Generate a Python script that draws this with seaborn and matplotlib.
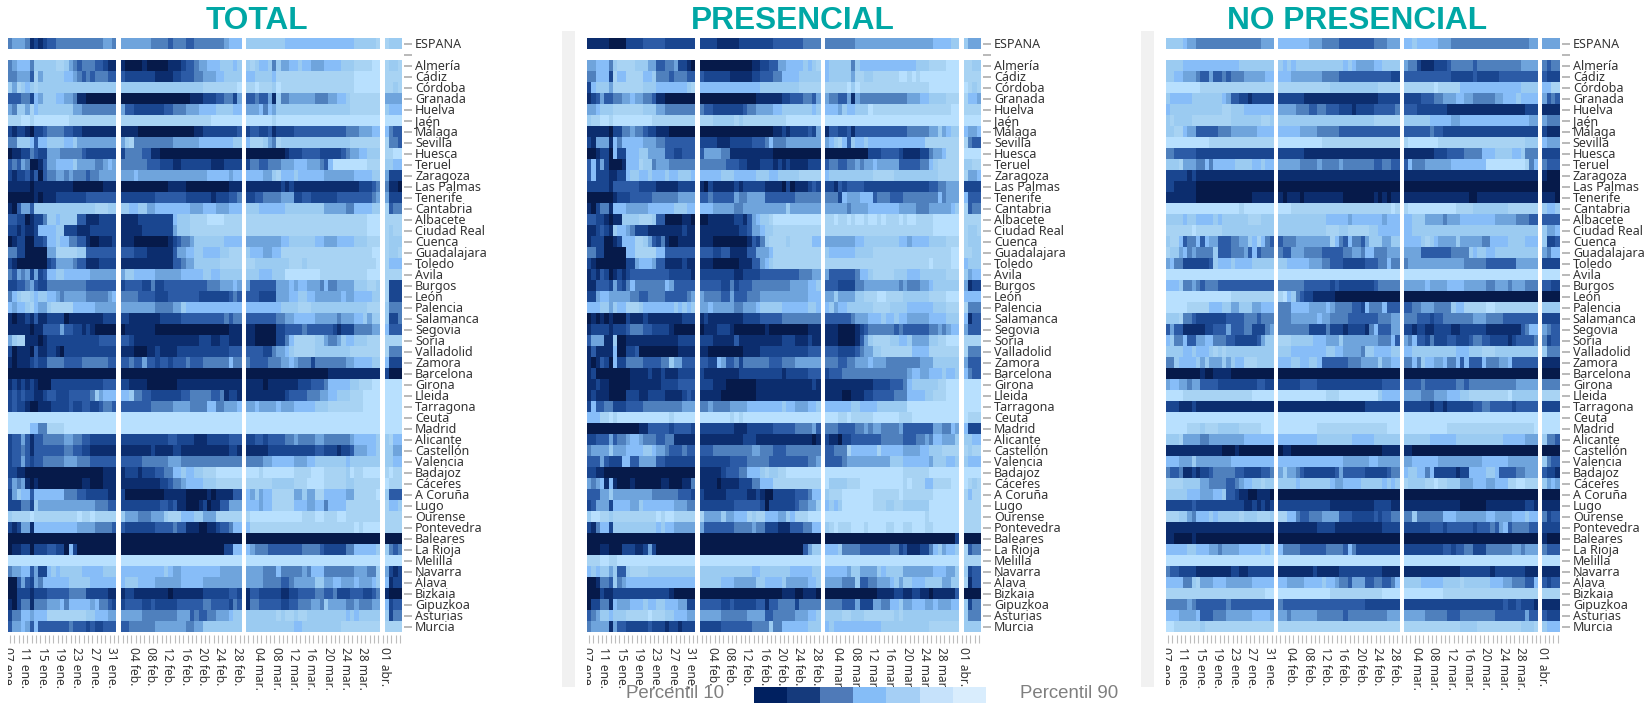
import numpy as np
import pandas as pd
import seaborn as sns
import matplotlib.pyplot as plt
from matplotlib.colors import ListedColormap
from matplotlib.patches import Rectangle
from matplotlib.transforms import Bbox, ScaledTranslation

provinces = ['ESPANA', 'Almería', 'Cádiz', 'Córdoba', 'Granada', 'Huelva', 'Jaén', 'Málaga', 'Sevilla', 'Huesca',
             'Teruel', 'Zaragoza', 'Las Palmas', 'Tenerife', 'Cantabria', 'Albacete', 'Ciudad Real', 'Cuenca',
             'Guadalajara', 'Toledo', 'Ávila', 'Burgos', 'León', 'Palencia', 'Salamanca', 'Segovia', 'Soria',
             'Valladolid', 'Zamora', 'Barcelona', 'Girona', 'Lleida', 'Tarragona', 'Ceuta', 'Madrid', 'Alicante',
             'Castellón', 'Valencia', 'Badajoz', 'Cáceres', 'A Coruña', 'Lugo', 'Ourense', 'Pontevedra', 'Baleares',
             'La Rioja', 'Melilla', 'Navarra', 'Álava', 'Bizkaia', 'Gipuzkoa', 'Asturias', 'Murcia']
month_days = [25, 28, 31, 4]
month_names = ['ene.', 'feb.', 'mar.', 'abr.']
first_day = [7, 1, 1, 1]
tick_days = {0: [7, 11, 15, 19, 23, 27, 31], 1: [4, 8, 12, 16, 20, 24, 28], 2: [4, 8, 12, 16, 20, 24, 28], 3: [1]}
titles = ['TOTAL', 'PRESENCIAL', 'NO PRESENCIAL']

# shade level per day, 0 = darkest, 9 = lightest. one row per province, months split by |
# token = level, or level followed by how many days it lasts
total = [
    "4 53 4 1 2 1 2 32 411 52 4|57 44 3 43 32 47 5 63|79 616 75 8|8 73",
    "4 5 63 4 75 82 7 5 4 3 43 32 2 12|1 04 1 05 13 2 32 4 52 63 73 6 7|7 8 7 62 7 4 7 52 62 7 62 53 64 73 84 92|8 72 8",
    "42 53 3 8 5 75 62 5 4 3 4 3 43 32|3 27 14 22 33 42 53 62 74|62 74 6 818 96|84",
    "7 5 8 7 6 7 8 718|719 88 9|82 9 83 7 9 817 96|82 7 8",
    "33 42 2 6 5 73 62 52 4 12 07|016 13 23 32 42 2 5|32 4 32 5 1 7 42 56 43 52 62 7 87|54",
    "5 4 72 5 8 6 78 52 48|5 32 27 32 43 53 64 74 62|53 6 4 6 5 717 87|7 63",
    "83 92 8 98 811|821 97|96 8 924|94",
    "2 1 22 1 0 22 3 44 32 22 18|14 013 12 28 3|2 32 22 3 1 24 312 43 53 62|6 4 32",
    "42 73 6 3 62 74 62 7 59|5 7 8 49 56 68 72|6 83 7 5 4 8 716 87|8 42 3",
    "0 12 22 4 3 22 53 45 3 27|2 44 32 12 019|09 1 23 34 25 3 4 52 62 73|82 92",
    "3 4 3 5 4 02 1 3 52 64 7 54 42 5 6 5|46 33 23 12 27 13 24|2 42 32 43 53 63 53 4 3 6 98 83|72 62",
    "2 1 22 3 1 3 0 3 42 52 4 5 43 3 42 54|53 6 516 65 5 62|64 52 7 8 63 7 66 57 64 72|5 23",
    "15 0 1 18 07 13|011 14 010 13|18 2 1 2 115 23 3 4|4 12 0",
    "06 1 0 13 27 37|2 27 37 26 1 23 32 4|22 32 44 53 22 32 26 38 4 5|5 23",
    "1 0 3 52 3 714 83 72|72 62 72 52 68 53 63 53 63|73 66 79 55 42 64 72|8 3 42",
    "32 22 0 1 22 4 72 6 74 32 13 24|14 28 6 73 84 94 84|828 93|84",
    "22 1 2 12 2 64 72 23 13 26|15 27 5 73 812|828 93|8 7 82",
    "0 1 22 02 22 3 62 7 62 42 32 1 02 13 2|13 08 1 2 3 42 5 77 64|58 62 76 62 53 64 73 83|8 73",
    "42 22 05 52 85 72 37|33 23 16 3 52 62 72 64 72 83|7 63 52 62 821 92|8 72 8",
    "2 1 07 2 3 54 4 32 13 24|112 32 4 52 76 85|82 78 83 7 816 9|8 63",
    "4 3 5 4 5 2 5 2 3 62 72 66 56|5 72 65 56 65 72 62 75|73 63 73 98 811 93|84",
    "22 32 4 5 3 22 49 37|2 34 22 4 22 310 43 53 6 5|5 36 53 6 5 62 53 4 6 42 52 52 73 82 7|8 23",
    "4 6 7 82 7 6 72 62 5 4 55 45 5 6|44 34 23 37 27 3 4 3|33 24 5 52 62 72 62 56 6 52 64 72|8 23",
    "6 5 62 7 8 6 52 7 85 65 55|58 44 52 7 613|68 74 83 76 77 83|7 43",
    "1 0 12 2 1 3 12 24 0 18 23|22 17 25 310 4 3 42|37 42 52 65 55 4 53 62 7 5 72|7 22 4",
    "15 0 1 1 3 33 5 32 22 1 2 1 05|0 17 017 13|12 05 22 34 4 36 2 1 23 44 52|6 33",
    "5 7 82 13 0 1 212 34|32 2 115 23 12 22 13|12 05 22 4 6 85 72 5 42 5 7 62 73 83|84",
    "2 0 13 0 3 12 22 1 0 212|13 03 12 2 14 212 33|34 22 4 52 6 7 85 73 75 87|8 43",
    "1 0 13 2 3 22 44 34 46 32|32 4 32 5 32 2 32 2 33 4 33 46 6 42|4 34 43 52 6 5 43 2 46 4 52 64 72|6 23",
    "025|028|019 112|2 03",
    "1 2 1 2 1 2 1 03 212 33|22 14 07 115|14 0 17 23 33 4 62 63 72 83 92|94",
    "2 3 2 3 22 12 2 32 23 35 4 7 5 63|62 7 42 32 27 32 45 32 4 1 22 1|19 2 34 43 52 62 73 83 94|94",
    "2 3 22 1 02 13 24 3 22 32 22 3 42 3|37 45 54 44 62 42 53 6|52 6 54 6 53 65 73 88 94|94",
    "925|928|931|94",
    "95 6 6 42 84 912|928|931|94",
    "2 32 5 3 1 32 45 52 42 32 26|211 32 24 13 25 33|22 32 2 34 42 5 44 52 46 5 65 7|7 8 62",
    "2 32 4 3 1 37 42 32 22 16|17 2 14 22 111 22 1|15 211 32 23 1 22 3 53 62 7|72 52",
    "2 32 5 3 2 32 45 53 43 36|35 46 53 414|44 52 65 53 62 72 75 6 77|72 62",
    "22 12 018 13|1 23 1 23 32 42 62 7 62 72 83 96|93 8 97 84 93 85 7 9 82 94|8 9 82",
    "3 5 4 5 1 0 1 010 12 03 13|19 22 3 42 5 64 73 86|86 75 83 92 92 85 72 82 84|9 83",
    "2 5 7 62 3 67 43 32 25 12|2 09 15 05 1 0 14 32|6 5 7 5 62 85 52 7 52 82 65 52 85 9|7 33",
    "23 42 2 7 513 43 32|29 32 2 3 12 03 1 2 0 12 32 53|63 5 62 85 63 52 62 4 64 88|8 62 7",
    "7 84 9 810 9 82 9 85|7 53 43 53 7 83 63 72 53 86|8 912 83 92 83 92 82 86|84",
    "2 1 2 52 1 610 54 44 3|3 27 34 4 32 13 02 12 2 32 4 62|6 824 9 8 94|84",
    "025|028|031|04",
    "0 12 22 0 23 32 22 0 6 2 09|024 22 62|6 5 43 38 44 3 25 42 65 7|7 4 3 4",
    "925|928|931|94",
    "4 52 62 3 5 22 6 7 6 75 65 73|610 7 6 52 69 55|54 43 6 45 5 4 63 47 53 42 7|5 2 1 2",
    "02 3 5 3 2 5 4 66 75 66|6 73 64 56 65 59|54 44 32 4 54 5 72 52 62 53 6 53 6 7|6 1 22",
    "02 23 1 23 35 44 25 12|1 22 18 0 17 26 32 2|1 32 25 12 22 34 42 32 4 23 3 32 22 3 4|1 03",
    "1 0 2 42 1 43 53 6 4 65 5 6 42 3 2|2 34 22 3 25 36 42 34 2 4 3|1 42 35 22 32 43 52 4 7 54 42 5 43 52|6 2 32",
    "2 42 62 5 63 89 72 63 52|55 48 53 3 4 32 42 53 6 72|77 8 7 82 7 8 8 79 6 7 6 75|7 2 42",
    "3 52 6 5 3 6 37 4 33 2 3 22 33|32 46 57 42 52 79|711 62 79 89|84",
]
presencial = [
    "15 04 24 35 27|24 15 28 37 44|47 518 64 72|7 53",
    "52 63 4 7 84 73 52 32 42 5 22 1 0|012 12 22 32 52 64 7 6 7 8|6 75 4 7 613 73 84 93|82 72",
    "42 63 2 8 62 84 62 7 43 3 43 32|3 26 15 22 33 42 64 75|6 75 5 82 72 86 92 8 9 8 99|84",
    "2 6 73 5 87 73 67 7 8|614 79 85|85 9 7 9 816 97|9 8 7 8",
    "1 2 3 5 32 42 52 6 52 42 3 12 07|013 16 22 33 42 3 5|5 42 32 5 1 5 411 53 62 74 83|8 62 5",
    "52 6 73 87 73 52 47|4 32 27 3 42 54 62 77 6 7|63 5 7 62 73 9 818 92|84",
    "7 82 92 8 99 810|83 75 8 7 810 98|931|94",
    "15 0 22 42 5 42 3 22 13 06|017 12 2 1 24 3 2 5|1 32 22 3 1 312 45 52 7 5 6 72|6 52 6",
    "2 1 53 1 6 4 65 53 42 37|24 13 25 33 4 6 43 52 56|5 6 7 8 6 3 7 62 7 613 86 82|8 4 32",
    "02 1 22 0 6 22 63 72 52 52 32 22 33|3 54 42 1 19 011|010 23 34 2 14 22 4 52 6 83|94",
    "3 6 2 5 2 03 1 63 8 72 4 53 46|46 33 22 13 23 1 2 1 2 14 23|3 42 32 42 5 4 52 6 55 3 34 42 6 7 85|72 82",
    "3 6 23 12 22 6 72 62 7 63 7 62 73 6|65 73 65 73 62 75 85|6 76 74 85 710 85|8 52 6",
    "25 1 36 24 15 24|1 0 2 15 2 1 25 14 0 2 0 13 2 3 2|22 1 3 2 3 33 22 213 32 42 53|24",
    "06 1 2 22 35 46 54|3 3 4 35 5 42 54 37 46|43 2 6 53 63 3 43 33 48 6 4 53|6 33",
    "1 0 2 42 1 63 55 64 62 73 62|63 55 42 510 7 57|55 4 54 67 54 43 55 6 7|8 3 42",
    "32 22 1 0 12 7 73 83 7 32 04 12 0|02 16 22 1 3 5 6 72 8 911|82 9 82 9 8 92 8 92 8 9 83 9 8 92 84 96|84",
    "12 2 3 2 1 7 62 5 4 23 18 2 12|19 22 3 52 6 72 811|825 96|8 72 8",
    "1 23 02 1 2 6 62 82 7 5 3 2 4 1 02 14|13 08 1 3 2 4 7 84 7 85 62|57 62 78 62 5 64 74 83|8 73",
    "42 22 05 62 85 62 37|3 32 22 32 14 32 53 6 811|7 66 74 818 92|82 72",
    "2 1 07 22 5 62 6 5 32 14 2 12|13 06 13 32 5 6 7 811|824 9 84 92|6 73",
    "1 2 1 3 2 0 1 2 1 2 39 25 1|28 12 24 39 43 52|5 36 4 62 7 85 73 63 76 83|7 5 62",
    "12 33 2 5 3 2 4 6 47 6 5 35|32 33 22 4 2 3 32 49 54 62 7|33 24 42 58 4 5 43 52 6 73 73|5 1 22",
    "22 5 62 5 54 42 32 44 35 4 5|5 44 32 5 33 43 511 63|52 7 54 72 83 92 84 76 84 93|64",
    "63 72 5 7 62 83 7 67 7 6 7 6 7|52 6 55 42 53 6 75 64 62 72 6|6 7 5 62 76 84 74 66 73 83|8 43",
    "0 1 0 1 0 1 03 2 13 2 18 23|1 2 18 24 35 49|36 4 53 63 7 62 7 62 55 64 73|6 1 32",
    "1 24 1 2 22 3 43 32 24 1 05|0 13 23 1 07 1 09 13|13 04 1 2 3 46 3 4 36 42 5 4 5 62|5 33",
    "3 53 12 7 02 112 24|23 15 3 110 23 13 2 12|13 04 1 3 5 7 84 72 62 7 5 53 72 82 93|84",
    "1 3 14 6 02 22 3 09 14|12 08 14 211 33|33 24 3 4 52 72 83 84 64 84 83|8 43",
    "1 0 1 3 2 0 6 22 44 34 42 7 52 33|32 22 6 5 32 4 2 46 33 43 56|43 32 42 53 6 53 48 53 76|5 33",
    "1 2 08 14 2 12 2 13 24|2 18 210 1 25 33|2 33 415 5 62 52 63 7 62 7|6 4 32",
    "12 2 12 05 17 24 34|23 13 07 113 2 1|111 24 33 4 6 76 82 93|94",
    "1 2 13 04 23 12 24 14 2 3 2|15 08 115|14 02 13 22 35 43 6 63 72 83 93|94",
    "2 6 32 42 23 3 33 49 53|42 5 44 54 68 7 62 53 62 7|66 72 64 77 912|94",
    "63 82 9 8 912 8 95|97 8 9 8 918|93 82 9 85 96 83 911|9 83",
    "012 12 35 2 34 2|28 13 26 35 44 5 3|43 34 42 5 4 5 5 44 5 37 52 42 6 5|6 23",
    "22 33 5 3 42 5 62 5 43 32 42 15|110 23 113 0 1|2 12 0 22 37 45 33 42 5 4 62 53 7|72 62",
    "4 54 7 53 64 72 6 52 4 33 4 32|33 49 52 43 33 48|32 43 8 66 8 65 54 62 73 84|8 7 82",
    "3 32 5 3 23 62 32 5 52 5 32 27|27 34 45 39 42 5|34 4 510 7 72 66 5 73 62 7|7 63",
    "22 1 1 021|15 2 33 42 63 7 8 72 82 98|918 86 97|94",
    "5 4 5 6 1 6 1 03 1 06 12 03 12 4|14 0 14 23 42 6 62 811|9 74 83 910 8 9 83 62 84 92|9 8 7 8",
    "3 32 52 7 59 46 33 2|2 15 25 12 2 1 02 25 33 4 62|7 83 97 86 9 87 96|8 6 82",
    "2 3 53 2 64 52 7 6 66 53 42|2 27 36 2 0 26 3 42 52 7|6 7 6 7 97 83 72 82 76 97|84",
    "7 92 82 7 810 9 8 92 85|8 54 7 52 63 8 7 82 63 52 7 6 83 93|923 8 97|84",
    "2 1 4 62 2 710 6 7 62 55|5 37 44 5 42 23 13 3 32 42 62|7 8 9 83 93 8 94 82 92 82 93 82 96|84",
    "025|028|030 2|04",
    "03 12 03 2 22 12 2 5 2 09|024 3 5 72|63 7 44 37 42 2 3 13 22 4 6 7 5 62 7|8 3 42",
    "83 92 82 918|928|931|84",
    "6 7 6 72 5 7 32 7 84 72 79|712 62 77 65 72|65 5 72 54 7 6 7 73 57 63 52 7|7 2 32",
    "02 1 42 3 7 4 5 616|75 63 55 72 64 7 5 54 62 7|54 43 7 32 42 53 6 7 5 72 63 74 52 72|8 1 32",
    "03 2 12 2 23 29 1 05|019 13 02 13 0|012 14 22 12 22 12 0 15 3|04",
    "0 22 42 1 6 53 63 7 62 72 63 52 22|35 22 3 25 32 1 32 44 2 45|44 33 5 23 52 42 62 7 52 63 52 6 53 62|7 2 42",
    "3 4 5 72 6 73 85 9 83 72 63 52|55 46 54 32 45 53 62 7|74 82 73 87 7 8 713|7 43",
    "4 54 1 5 32 25 3 23 1 22 1 23|25 37 44 7 42 6 65 73|6 7 6 610 711 87|74",
]
no_presencial = [
    "74 6 52 415 53|67 53 44 38 43 53|62 7 65 53 418 52|54",
    "74 613 78|7 6 7 6 73 78 6 7 6 54 62 74|5 42 2 12 1 23 3 45 3 410 54|4 3 42",
    "72 62 53 4 32 5 32 4 3 43 55 62|63 57 44 312 22|311 25 3 25 39|3 23",
    "98 817|812 711 85|87 9 85 614 74|62 82",
    "7 65 77 6 5 32 22 1 25|26 112 15 25|24 33 42 53 62 52 45 52 63 7 64|5 3 4 3",
    "6 712 82 73 67|54 43 32 42 33 23 1 24 35 4|33 27 118 23|14",
    "7 8 74 89 77 82 7|722 86|76 65 52 616 52|5 43",
    "72 82 6 52 35 43 56 64|65 54 45 314|36 4 32 222|2 13",
    "910 815|910 818|8 97 820 73|6 53",
    "42 35 218|26 122|17 23 34 44 6 62 74 62 7 43|24",
    "73 8 53 42 6 4 6 64 74 62 7 62|55 44 5 44 5 47 32 42 32|3 6 43 56 68 99 8 4 6|4 33",
    "25 1 2 118|128|131|1 03",
    "22 15 018|028|031|04",
    "17 013 15|1 0 13 0 19 07 1 0 1 0 12|115 02 114|13 0",
    "917 8 97|93 823 9 8|8 911 84 78 87|7 62 7",
    "74 6 72 64 7 6 76 83 73|711 65 5 67 5 63|62 7 72 54 4 53 68 55 43 32|34",
    "86 9 86 712|711 83 72 85 72 65|62 729|7 52 6",
    "7 82 6 3 42 6 3 6 52 33 42 52 7 6 8 6 4 3|3 43 58 8 6 4 3 6 42 3 5 73 52 72|64 7 8 7 6 54 7 55 42 6 63 74 63|7 22 3",
    "8 72 5 6 4 5 44 7 33 43 5 3 6 3 43|4 32 53 44 35 42 52 4 62 43 53|54 37 44 7 6 72 62 72 78|5 4 62",
    "5 6 42 26 3 7 63 7 64 75|72 65 53 42 33 25 33 42 6 42|4 513 45 37 55|24",
    "925|928|931|94",
    "6 62 7 42 5 4 3 43 313|46 36 2 3 28 3 45|55 6 54 64 55 42 53 4 53 43|32 22",
    "915 810|8 9 6 7 4 3 22 15 015|031|04",
    "95 85 63 72 52 73 52 63|43 64 54 6 5 44 32 2 6 43 6 33|32 42 53 44 7 62 85 92 810|74",
    "73 8 42 3 27 34 43 3 43|43 56 6 52 44 37 43 52|43 33 2 32 47 53 44 38|24",
    "3 5 32 15 22 33 5 33 42 2 22 4 5|47 24 4 23 1 24 1 4 6 33 52|22 1 22 12 24 12 26 1 17 3 4 62|5 4 32",
    "6 7 42 6 32 52 62 43 32 25 3 5 72|83 75 63 53 7 58 43 6 3|5 4 6 32 2 4 23 32 23 3 42 32 24 1 2 34 4|4 2 32",
    "74 62 7 63 7 8 7 8 711|73 64 64 72 62 54 4 72 64 72|62 710 63 73 83 710|7 43",
    "42 7 6 63 7 5 7 53 7 5 7 62 83 74|63 72 62 72 6 36 43 54 7 52 62|42 6 4 7 62 52 6 42 6 3 6 33 6 43 52 6 36|14",
    "08 1 02 14 010|028|031|04",
    "5 62 52 4 52 34 29 32 22|25 34 215 34|34 4 37 42 3 411 55|44",
    "94 816 95|911 83 99 7 64|54 43 53 63 72 89 9 76|84",
    "23 13 2 118|120 28|26 1 22 1 26 32 42 35 2 35|24",
    "925|928|931|94",
    "95 83 7 83 75 85 93|99 816 93|910 820 9|94",
    "73 8 54 42 58 67|69 78 65 76|76 66 711 65 53|7 42 3",
    "113 03 1 08|0 12 021 14|12 029|04",
    "63 53 7 58 610|615 56 62 55|52 66 510 66 57|7 4 32",
    "4 32 4 12 2 1 22 3 45 32 24 32 4|5 7 52 4 3 27 3 5 35 25 3 42|6 72 6 6 4 6 25 1 22 64 72 6 34 42 53|3 22 1",
    "84 74 52 44 32 4 5 62 72 8 72|74 6 77 6 52 64 75 6 7 6 7|8 74 82 9 82 72 7 53 63 52 63 82 92 83|7 5 6 5",
    "75 63 53 62 7 32 2 12 02 13 0|028|031|04",
    "26 3 211 12 2 1 2 1 2|212 110 24 12|113 06 19 22 1|14",
    "83 72 5 4 63 7 6 75 8 73 83 7|82 62 4 32 43 54 33 25 3 2 32 42|42 7 46 6 62 57 62 54 63 7 62|4 2 32",
    "125|19 24 111 24|26 33 2 36 2 33 4 3 5 6 3 4 43 32|24",
    "12 04 1 018|028|031|1 03",
    "65 72 63 52 4 54 65 7 6 7|6 44 36 44 3 6 4 210|29 32 2 32 42 23 46 52 4 53|4 33",
    "925|928|931|94",
    "4 32 24 18 22 12 26|18 2 15 210 14|113 27 1 27 13|14",
    "64 42 7 8 53 63 56 65|62 54 64 7 62 5 42 3 5 52 32 42 32 4 6|74 65 72 72 8 76 63 52 43 32 6|3 2 32",
    "823 92|912 812 94|99 822|84",
    "45 5 4 37 4 310|4 319 28|223 3 22 3 23 1|14",
    "63 54 6 33 43 56 64 5|52 4 56 46 3 49 53|55 45 33 48 37 5 32|3 23",
    "92 86 7 816|828|813 74 810 7 72 8|7 63",
]
legend_levels = [0, 1, 2, 3, 4, 5, 6]

shades = ['#061a4a', '#0c2d6e', '#1a4690', '#2c5ba6', '#4f80bd', '#6fa4dc', '#87bdf8', '#9bcbf1', '#a8d3f3', '#b8e0fe']
legend_shades = ['#002060', '#153a7c', '#4f7ab8', '#85bdf7', '#a5cff5', '#c6e2fb', '#d9edfd']

W, H = 1645, 703
plt.rcParams['font.family'] = ['Noto Sans', 'DejaVu Sans']


def expand(row):
    # months get one empty column between them
    out = []
    for m, part in enumerate(row.split('|')):
        days = []
        for tok in part.split():
            days += [int(tok[0])] * (int(tok[1:]) if len(tok) > 1 else 1)
        days = (days + days[-1:] * month_days[m])[:month_days[m]]
        out += days
        if m < 3:
            out.append(np.nan)
    return out


def axes_px(fig, left, top, w, h):
    return fig.add_axes([left / W, 1 - (top + h) / H, w / W, h / H])


# column labels, only every fourth day gets text
col_labels = []
for m, n in enumerate(month_days):
    for d in range(first_day[m], first_day[m] + n):
        col_labels.append(f'{d:02d} {month_names[m]}' if d in tick_days[m] else '')
    if m < 3:
        col_labels.append('')

fig = plt.figure(figsize=[W / 100, H / 100], dpi=100, facecolor='w')

for x0 in [562, 1141]:
    fig.add_artist(Rectangle((x0 / W, 1 - 686.7 / H), 13 / W, (686.7 - 31) / H, transform=fig.transFigure,
                             facecolor='#f1f1f1', edgecolor='none'))

panels = [total, presencial, no_presencial]
lefts = [8, 587, 1165.7]
centers = [256.7, 793.3, 1356.7]
row_labels = [provinces[0], ''] + provinces[1:]

for rows, left, center, title in zip(panels, lefts, centers, titles):
    values = [expand(r) for r in rows]
    values.insert(1, [np.nan] * len(col_labels))
    df = pd.DataFrame(values, index=range(len(row_labels)), columns=range(len(col_labels)))

    ax = axes_px(fig, left, 38.3, 394, 594)
    sns.heatmap(df, ax=ax, cmap=ListedColormap(shades), vmin=0, vmax=9, cbar=False,
                xticklabels=col_labels, yticklabels=row_labels)
    ax.set_xlabel('')
    ax.set_ylabel('')
    ax.yaxis.tick_right()
    for side in ax.spines:
        ax.spines[side].set_visible(False)
    ax.spines['right'].set_position(('outward', 1.6))
    ax.spines['bottom'].set_position(('outward', 2.2))
    ax.tick_params(axis='y', length=5.8, width=1.1, color='#a6a6a6', pad=2.0, labelsize=9.0,
                   labelcolor='#333333', labelrotation=0)
    ax.tick_params(axis='x', length=5.8, width=0.8, color='#bdbdbd', pad=2.6, labelsize=8.6,
                   labelcolor='#333333', labelrotation=270)
    # nudge the labels so the glyphs sit where the original has them
    up = ScaledTranslation(0, 1 / 100, fig.dpi_scale_trans)
    for lab in ax.get_yticklabels():
        lab.set_transform(lab.get_transform() + up)
    back = ScaledTranslation(-2.5 / 100, 0, fig.dpi_scale_trans)
    for lab in ax.get_xticklabels():
        lab.set_va('top')
        lab.set_ha('center')
        lab.set_transform(lab.get_transform() + back)
    # the first date label is cut by the panel edge
    first = ax.get_xticklabels()[0]
    first.set_clip_box(Bbox([[left, 0], [left + 60, H]]))
    first.set_clip_on(True)

    fig.text(center / W, 1 - 29 / H, title, family='Liberation Sans', weight='bold', fontsize=22.8,
             color='#00a7a5', ha='center', va='baseline')

# legend strip
lax = axes_px(fig, 753.5, 686.7, 232.5, 16.3)
sns.heatmap(pd.DataFrame([legend_levels]), ax=lax, cmap=ListedColormap(legend_shades), vmin=0, vmax=6,
            cbar=False, xticklabels=False, yticklabels=False)
lax.set_xlabel('')
lax.set_ylabel('')
fig.text(626 / W, 1 - 693.5 / H, 'Percentil 10', family='Liberation Sans', fontsize=13.4, color='#7f7f7f',
         ha='left', va='center')
fig.text(1020 / W, 1 - 693.5 / H, 'Percentil 90', family='Liberation Sans', fontsize=13.4, color='#7f7f7f',
         ha='left', va='center')

fig.savefig('out.png', dpi=100, facecolor='w')
